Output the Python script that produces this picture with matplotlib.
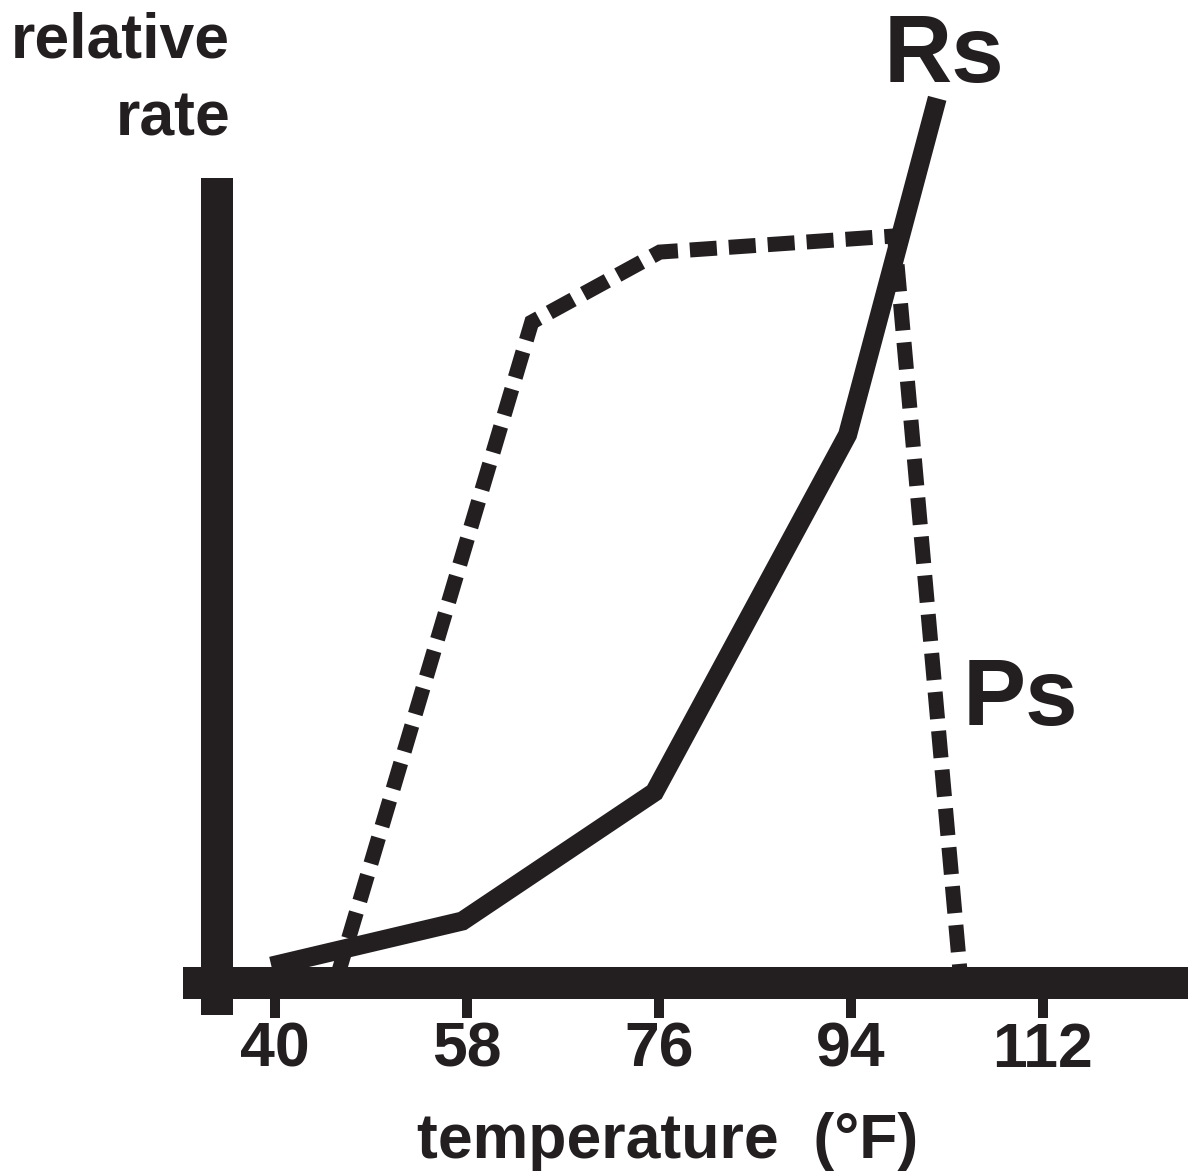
import matplotlib
matplotlib.use("Agg")
import matplotlib.pyplot as plt

# ---- data ----
rs_temp = [39.7, 57.6, 75.6, 93.7, 102.1]
rs_rate = [0.21, 0.77, 2.37, 6.81, 10.99]

ps_temp = [45.9, 64.1, 76.1, 98.1, 104.3]
ps_rate = [0.09, 8.21, 9.08, 9.28, 0.05]

xticks = [40, 58, 76, 94, 112]
xtick_labels = ["40", "58", "76", "94", "112"]

INK = "#231f20"
FONT = "Liberation Sans"
W, H, DPI = 1188, 1173, 100

fig = plt.figure(figsize=(W / DPI, H / DPI), dpi=DPI)
ax = fig.add_axes([0, 0, 1, 1])

# pixel mapping: x_px = 274.6 + (T-40)*10.67 ; y_px = 983 - r*80.5
pxT = 10.67
pxR = 80.5
ax.set_xlim(40 - 274.6 / pxT, 40 + (W - 274.6) / pxT)
ax.set_ylim(-(H - 983) / pxR, 983 / pxR)
ax.set_facecolor("white")

pt = 72 / DPI  # points per pixel

# data lines
ax.plot(rs_temp, rs_rate, color=INK, lw=19 * pt, solid_joinstyle="miter",
        solid_capstyle="butt", zorder=3)
ax.plot(ps_temp, ps_rate, color=INK, lw=15 * pt, linestyle=(0, (1.8, 0.8)),
        dash_capstyle="butt", dash_joinstyle="miter", zorder=3)

# axes spines
for s in ["top", "right"]:
    ax.spines[s].set_visible(False)
left = ax.spines["left"]
left.set_position(("data", 40 - (274.6 - 217) / pxT))
left.set_bounds(-(1015 - 983) / pxR, (983 - 178) / pxR)
left.set_linewidth(32 * pt)
left.set_color(INK)
left.set_capstyle("butt")
bottom = ax.spines["bottom"]
bottom.set_position(("data", 0))
bottom.set_bounds(40 - (274.6 - 183) / pxT, 40 + (W - 274.6) / pxT)
bottom.set_linewidth(32 * pt)
bottom.set_color(INK)
bottom.set_capstyle("butt")

ax.set_yticks([])
ax.set_xticks(xticks)
ax.set_xticklabels(xtick_labels, fontfamily=FONT, fontweight="bold",
                   fontsize=45, color=INK)
ax.tick_params(axis="x", direction="out", length=35 * pt, width=10 * pt,
               color=INK, pad=2)

# texts
fig.text(230 / W, 1 - 58 / H, "relative", ha="right", va="baseline",
         fontfamily=FONT, fontweight="bold", fontsize=45, color=INK)
fig.text(230 / W, 1 - 135 / H, "rate", ha="right", va="baseline",
         fontfamily=FONT, fontweight="bold", fontsize=45, color=INK)
fig.text(667.5 / W, 1 - 1158 / H, "temperature  (\u00b0F)", ha="center",
         va="baseline", fontfamily=FONT, fontweight="bold", fontsize=45,
         color=INK)
fig.text(884 / W, 1 - 82 / H, "Rs", ha="left", va="baseline",
         fontfamily=FONT, fontweight="bold", fontsize=68, color=INK)
fig.text(963 / W, 1 - 725 / H, "Ps", ha="left", va="baseline",
         fontfamily=FONT, fontweight="bold", fontsize=68, color=INK)

fig.savefig("out.png", dpi=DPI, facecolor="white")
